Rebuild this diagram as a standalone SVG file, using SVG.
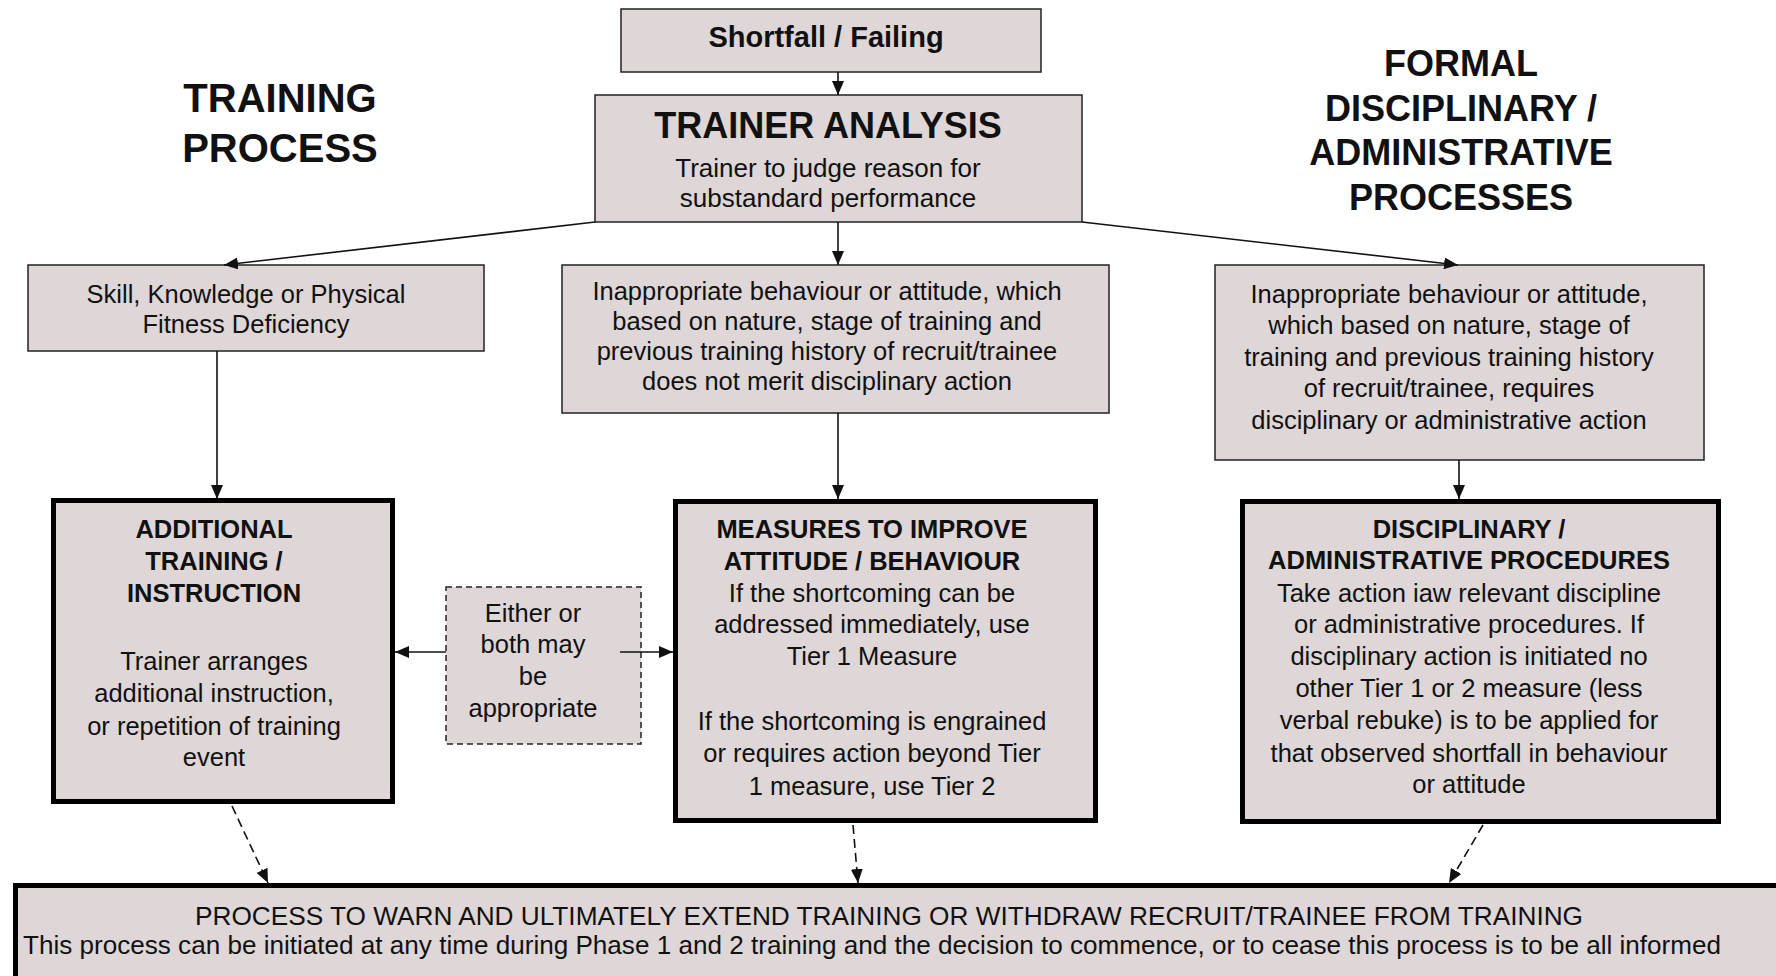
<svg xmlns="http://www.w3.org/2000/svg" width="1776" height="976" viewBox="0 0 1776 976">
<style>
.box{fill:#ded6d7;stroke:#222;stroke-width:1.5}
.thick{fill:#ded6d7;stroke:#000;stroke-width:5}
.dash{fill:#ded6d7;stroke:#222;stroke-width:1.5;stroke-dasharray:6 4}
text{font-family:"Liberation Sans",Arial,sans-serif;fill:#111;text-anchor:middle}
.b{font-weight:bold}
.t{font-size:25.5px}
.h{font-size:25.5px;font-weight:bold}
.con{stroke:#111;stroke-width:1.6;fill:none;marker-end:url(#ah)}
.dcon{stroke:#111;stroke-width:1.6;fill:none;stroke-dasharray:9 5;marker-end:url(#ah)}
</style>
<defs>
<marker id="ah" markerUnits="userSpaceOnUse" markerWidth="14" markerHeight="12" refX="14" refY="6" orient="auto">
<path d="M0,0 L14,6 L0,12 z" fill="#111"/>
</marker>
</defs>
<rect width="1776" height="976" fill="#fff"/>

<g id="heading-training">
<text class="b" x="280" y="112" font-size="40">TRAINING</text>
<text class="b" x="280" y="162" font-size="40">PROCESS</text>
</g>
<g id="heading-formal">
<text class="b" x="1461" y="76" font-size="36">FORMAL</text>
<text class="b" x="1461" y="121" font-size="36">DISCIPLINARY /</text>
<text class="b" x="1461" y="165" font-size="36">ADMINISTRATIVE</text>
<text class="b" x="1461" y="210" font-size="36">PROCESSES</text>
</g>

<g id="shortfall">
<rect class="box" x="621" y="9" width="420" height="63"/>
<text class="b" x="826" y="47" font-size="29">Shortfall / Failing</text>
</g>

<g id="trainer-analysis">
<rect class="box" x="595" y="95" width="487" height="127"/>
<text class="b" x="828" y="138" font-size="36">TRAINER ANALYSIS</text>
<text x="828" y="177" font-size="26">Trainer  to judge reason for</text>
<text x="828" y="207" font-size="26">substandard performance</text>
</g>

<g id="skill-deficiency">
<rect class="box" x="28" y="265" width="456" height="86"/>
<text class="t" x="246" y="303">Skill, Knowledge or Physical</text>
<text class="t" x="246" y="333">Fitness Deficiency</text>
</g>

<g id="behaviour-no-discipline">
<rect class="box" x="562" y="265" width="547" height="148"/>
<text class="t" x="827" y="300">Inappropriate behaviour or attitude, which</text>
<text class="t" x="827" y="330">based on nature, stage of training and</text>
<text class="t" x="827" y="360">previous training history of recruit/trainee</text>
<text class="t" x="827" y="390">does not merit disciplinary action</text>
</g>

<g id="behaviour-discipline">
<rect class="box" x="1215" y="265" width="489" height="195"/>
<text class="t" x="1449" y="303">Inappropriate behaviour or attitude,</text>
<text class="t" x="1449" y="334">which based on nature,  stage of</text>
<text class="t" x="1449" y="366">training and previous training history</text>
<text class="t" x="1449" y="397">of recruit/trainee, requires</text>
<text class="t" x="1449" y="429">disciplinary or administrative action</text>
</g>

<g id="additional-training">
<rect class="thick" x="53.5" y="500.5" width="339" height="301"/>
<text class="h" x="214" y="538">ADDITIONAL</text>
<text class="h" x="214" y="570">TRAINING /</text>
<text class="h" x="214" y="602">INSTRUCTION</text>
<text class="t" x="214" y="670">Trainer  arranges</text>
<text class="t" x="214" y="702">additional instruction,</text>
<text class="t" x="214" y="735">or repetition of training</text>
<text class="t" x="214" y="766">event</text>
</g>

<g id="either-or-both">
<rect class="dash" x="446" y="587" width="195" height="157"/>
<text class="t" x="533" y="622">Either or</text>
<text class="t" x="533" y="653">both may</text>
<text class="t" x="533" y="685">be</text>
<text class="t" x="533" y="717">appropriate</text>
</g>

<g id="measures">
<rect class="thick" x="675.5" y="501.5" width="420" height="319"/>
<text class="h" x="872" y="538">MEASURES TO IMPROVE</text>
<text class="h" x="872" y="570">ATTITUDE / BEHAVIOUR</text>
<text class="t" x="872" y="602">If the shortcoming can be</text>
<text class="t" x="872" y="633">addressed immediately, use</text>
<text class="t" x="872" y="665">Tier 1 Measure</text>
<text class="t" x="872" y="730">If the shortcoming is engrained</text>
<text class="t" x="872" y="762">or requires action beyond Tier</text>
<text class="t" x="872" y="795">1 measure,  use Tier 2</text>
</g>

<g id="disciplinary-procedures">
<rect class="thick" x="1242.5" y="501.5" width="476" height="320"/>
<text class="h" x="1469" y="538">DISCIPLINARY /</text>
<text class="h" x="1469" y="569">ADMINISTRATIVE  PROCEDURES</text>
<text class="t" x="1469" y="602">Take action iaw relevant  discipline</text>
<text class="t" x="1469" y="633">or administrative procedures.  If</text>
<text class="t" x="1469" y="665">disciplinary action is initiated no</text>
<text class="t" x="1469" y="697">other Tier 1 or 2 measure (less</text>
<text class="t" x="1469" y="729">verbal rebuke) is to be applied for</text>
<text class="t" x="1469" y="762">that observed shortfall in behaviour</text>
<text class="t" x="1469" y="793">or attitude</text>
</g>

<g id="warn-extend-withdraw">
<rect class="thick" x="15.5" y="885.5" width="1800" height="120"/>
<text style="text-anchor:start" x="195" y="925" font-size="25" textLength="1388" lengthAdjust="spacingAndGlyphs">PROCESS TO WARN AND ULTIMATELY EXTEND TRAINING OR WITHDRAW RECRUIT/TRAINEE  FROM TRAINING</text>
<text style="text-anchor:start" x="23" y="954" font-size="25" textLength="1698" lengthAdjust="spacingAndGlyphs">This  process can be initiated at any time during Phase 1 and 2 training and the decision to commence, or to cease this process is to be all informed</text>
</g>

<g id="connectors">
<line class="con" x1="838" y1="72" x2="838" y2="95"/>
<line class="con" x1="595" y1="222" x2="224" y2="265"/>
<line class="con" x1="838" y1="222" x2="838" y2="265"/>
<line class="con" x1="1082" y1="222" x2="1458" y2="265"/>
<line class="con" x1="217" y1="351" x2="217" y2="499"/>
<line class="con" x1="838" y1="413" x2="838" y2="499"/>
<line class="con" x1="1459" y1="460" x2="1459" y2="499"/>
<line class="con" x1="446" y1="652" x2="395" y2="652"/>
<line class="con" x1="620" y1="652" x2="673" y2="652"/>
<line class="dcon" x1="232" y1="806" x2="268" y2="883"/>
<line class="dcon" x1="853" y1="825" x2="858" y2="883"/>
<line class="dcon" x1="1483" y1="825" x2="1449" y2="883"/>
</g>
</svg>
